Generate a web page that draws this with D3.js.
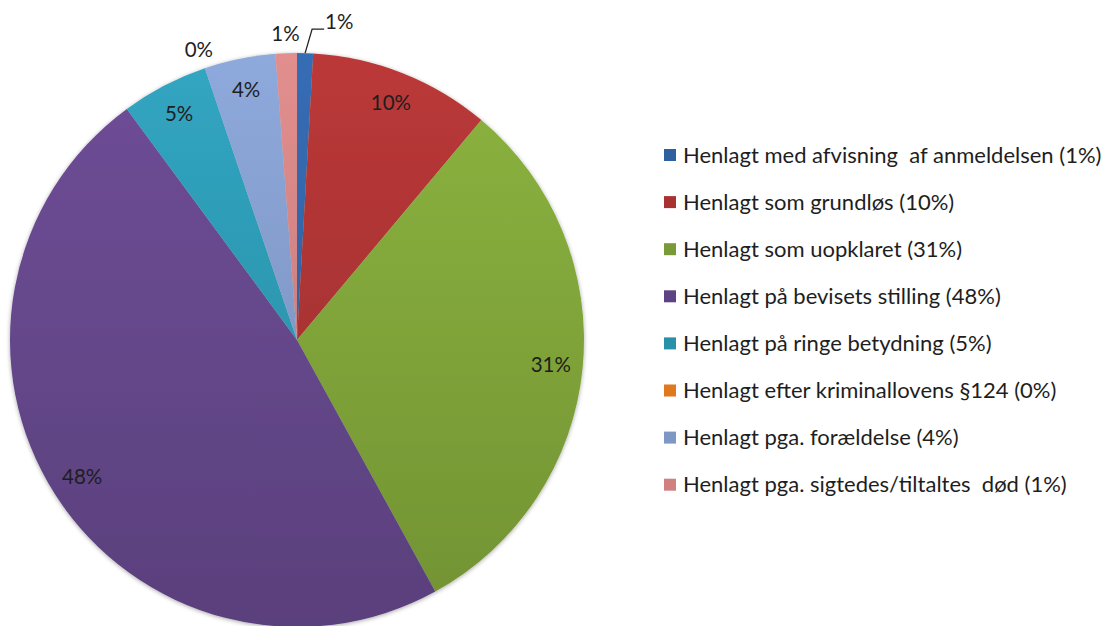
<!DOCTYPE html>
<html>
<head>
<meta charset="utf-8">
<script src="https://cdn.jsdelivr.net/npm/d3@7"></script>
<style>
  html, body { margin: 0; padding: 0; background: #fff; }
  svg { display: block; }
  text { font-family: Lato, "Liberation Sans", sans-serif; fill: #1e1e1e; }
</style>
</head>
<body>
<svg id="chart" width="1111" height="626"></svg>
<script>
// ---- data ----
const categories = [
  "Henlagt med afvisning  af anmeldelsen",
  "Henlagt som grundløs",
  "Henlagt som uopklaret",
  "Henlagt på bevisets stilling",
  "Henlagt på ringe betydning",
  "Henlagt efter kriminallovens §124",
  "Henlagt pga. forældelse",
  "Henlagt pga. sigtedes/tiltaltes  død"
];
const values = [0.9, 10.2, 30.9, 47.9, 4.9, 0, 4.0, 1.2];
const labels = ["1%", "10%", "31%", "48%", "5%", "0%", "4%", "1%"];
const colors = ["#3468ad", "#b33636", "#86ac3c", "#6a4b92", "#2f9fba", "#e8812a", "#88a2d3", "#d98888"];
const legendColors = ["#2e5f9e", "#a83232", "#7a9a3a", "#5e4384", "#2a8fa8", "#e0781e", "#7f97c4", "#d08080"];

// ---- layout ----
const cx = 297, cy = 340, R = 287;
const svg = d3.select("#chart");
const defs = svg.append("defs");

const shadow = defs.append("filter").attr("id", "shadow")
  .attr("x", "-10%").attr("y", "-10%").attr("width", "120%").attr("height", "120%");
shadow.append("feDropShadow").attr("dx", 0).attr("dy", 1).attr("stdDeviation", 2)
  .attr("flood-color", "#000").attr("flood-opacity", 0.35);

colors.forEach((c, i) => {
  const gr = defs.append("linearGradient").attr("id", "grad" + i)
    .attr("gradientUnits", "userSpaceOnUse")
    .attr("x1", 0).attr("y1", -R).attr("x2", 0).attr("y2", R);
  gr.append("stop").attr("offset", "0%").attr("stop-color", d3.color(c).brighter(0.12));
  gr.append("stop").attr("offset", "100%").attr("stop-color", d3.color(c).darker(0.45));
});

const pie = d3.pie().sort(null).value(d => d)(values);
const arc = d3.arc().innerRadius(0).outerRadius(R);

const g = svg.append("g").attr("transform", `translate(${cx},${cy})`);
g.append("g").attr("filter", "url(#shadow)")
  .selectAll("path").data(pie.filter(d => d.value > 0)).join("path")
  .attr("d", arc)
  .attr("fill", d => `url(#grad${d.index})`);

// labels
const fontSize = 20.5;
function pointAt(angle, r) {
  return [r * Math.sin(angle), -r * Math.cos(angle)];
}
const insideR = 255, outsideR = 306;
pie.forEach((d, i) => {
  const mid = (d.startAngle + d.endAngle) / 2;
  if (i === 0) {
    const s = pointAt(mid, R);
    const e1 = [s[0] + 7, s[1] - 24];
    const e2 = [e1[0] + 12, e1[1]];
    g.append("path").attr("d", d3.line()([s, e1, e2]))
      .attr("fill", "none").attr("stroke", "#222").attr("stroke-width", 1.3);
    g.append("text").attr("x", e2[0] + 1).attr("y", e2[1] - 7)
      .attr("dy", "0.35em").attr("text-anchor", "start")
      .attr("font-size", fontSize).text(labels[i]);
    return;
  }
  const outside = (i === 5 || i === 7);
  const p = pointAt(mid, outside ? outsideR : insideR);
  g.append("text").attr("x", p[0]).attr("y", p[1])
    .attr("dy", "0.35em").attr("text-anchor", "middle")
    .attr("font-size", fontSize).text(labels[i]);
});

// legend
const legendX = 664, legendY0 = 155, legendStep = 47.1;
const lg = svg.append("g");
const items = lg.selectAll("g").data(categories).join("g")
  .attr("transform", (d, i) => `translate(${legendX},${legendY0 + i * legendStep})`);
items.append("rect").attr("x", 0).attr("y", -6).attr("width", 12).attr("height", 12)
  .attr("fill", (d, i) => legendColors[i]);
items.append("text").attr("x", 19).attr("y", 0).attr("dy", "0.35em")
  .attr("font-size", 22)
  .style("white-space", "pre")
  .attr("xml:space", "preserve")
  .text((d, i) => `${d} (${labels[i]})`);
</script>
</body>
</html>
